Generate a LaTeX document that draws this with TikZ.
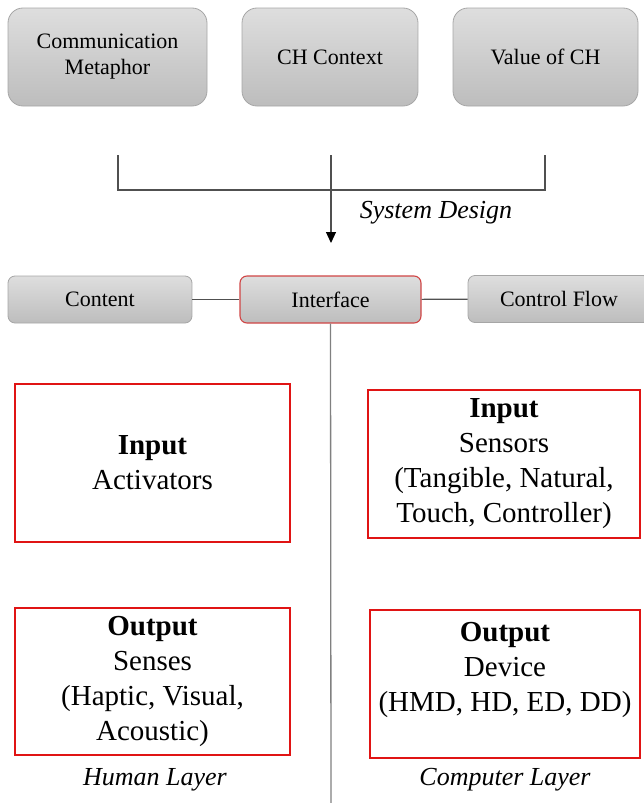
\documentclass[tikz,border=0pt]{standalone}
\usepackage{fontspec}
\setmainfont{LiberationSerif}[Extension=.ttf, UprightFont=*-Regular, BoldFont=*-Bold, ItalicFont=*-Italic, BoldItalicFont=*-BoldItalic]
\usetikzlibrary{arrows.meta}
\definecolor{boxgrayT}{HTML}{DEDEDE}
\definecolor{boxgrayB}{HTML}{BDBDBD}
\definecolor{boxedge}{HTML}{A6A6A6}
\definecolor{redE}{HTML}{E01414}
\definecolor{ifred}{HTML}{D04545}
\definecolor{linegray}{HTML}{505050}
\definecolor{divgray}{HTML}{808080}
\begin{document}
\begin{tikzpicture}[x=1pt,y=1pt,
  graybox/.style={draw=boxedge, line width=0.8pt, top color=boxgrayT, bottom color=boxgrayB,
    align=center, inner sep=0pt, font=\fontsize{22}{26}\selectfont},
  topbox/.style={graybox, rounded corners=15pt, minimum height=98pt},
  rowbox/.style={graybox, rounded corners=7pt, minimum height=47pt},
  redbox/.style={draw=redE, line width=1.4pt, fill=white, align=center, inner sep=0pt,
    font=\fontsize{29}{35}\selectfont},
  layerlabel/.style={font=\fontsize{26}{30}\selectfont\itshape},
  conn/.style={draw=linegray, line width=1.1pt}
]
\useasboundingbox (0,0) rectangle (644,-803);

% top boxes
\node[topbox, minimum width=199pt] (cm) at (107.5,-57) {Communication\\Metaphor};
\node[topbox, minimum width=176pt] (chc) at (330,-57) {CH Context};
\node[topbox, minimum width=185pt] (voc) at (545.5,-57) {Value of CH};

% bracket and arrow
\coordinate (bl) at (118,-155);
\coordinate (br) at (545,-155);
\coordinate (bc) at (331,-155);
\coordinate (tip) at (331,-243);
\draw[conn] (bl) -- ++(0,-35) -| (br);
\draw[conn, -{Triangle[length=11pt,width=10pt,color=black]}] (bc) -- (tip);
\node[layerlabel] (sd) at (436,-213) {System Design};

% row boxes
\node[rowbox, minimum width=184pt] (content) at (100,-299.5) {Content};
\node[rowbox, minimum width=181pt, draw=ifred, line width=1.1pt] (iface) at (330.5,-299.5) {Interface};
\node[rowbox, minimum width=182pt] (cflow) at (559,-299) {Control Flow};
\draw[conn] (content) -- (iface);
\draw[conn] (iface) -- (cflow);

% divider
\coordinate (bottom) at (331,-803);
\draw[draw=divgray, line width=1.3pt] (iface.south) -- (bottom);

% red boxes
\node[redbox, minimum width=275pt, minimum height=158pt] (ia) at (152.5,-463) {\textbf{Input}\\Activators};
\node[redbox, minimum width=272pt, minimum height=148pt] (is) at (504,-464) {\textbf{Input}\\Sensors\\(Tangible, Natural,\\Touch, Controller)};
\node[redbox, minimum width=275pt, minimum height=147pt] (os) at (152.5,-681.5) {\textbf{Output}\\Senses\\(Haptic, Visual,\\Acoustic)};
\node[redbox, minimum width=270pt, minimum height=148pt] (od) at (505,-684) {\textbf{Output}\\Device\\(HMD, HD, ED, DD)\\\mbox{}};

% layer labels
\node[layerlabel] (hl) at (155,-780) {Human Layer};
\node[layerlabel] (cl) at (505,-780) {Computer Layer};
\end{tikzpicture}
\end{document}
